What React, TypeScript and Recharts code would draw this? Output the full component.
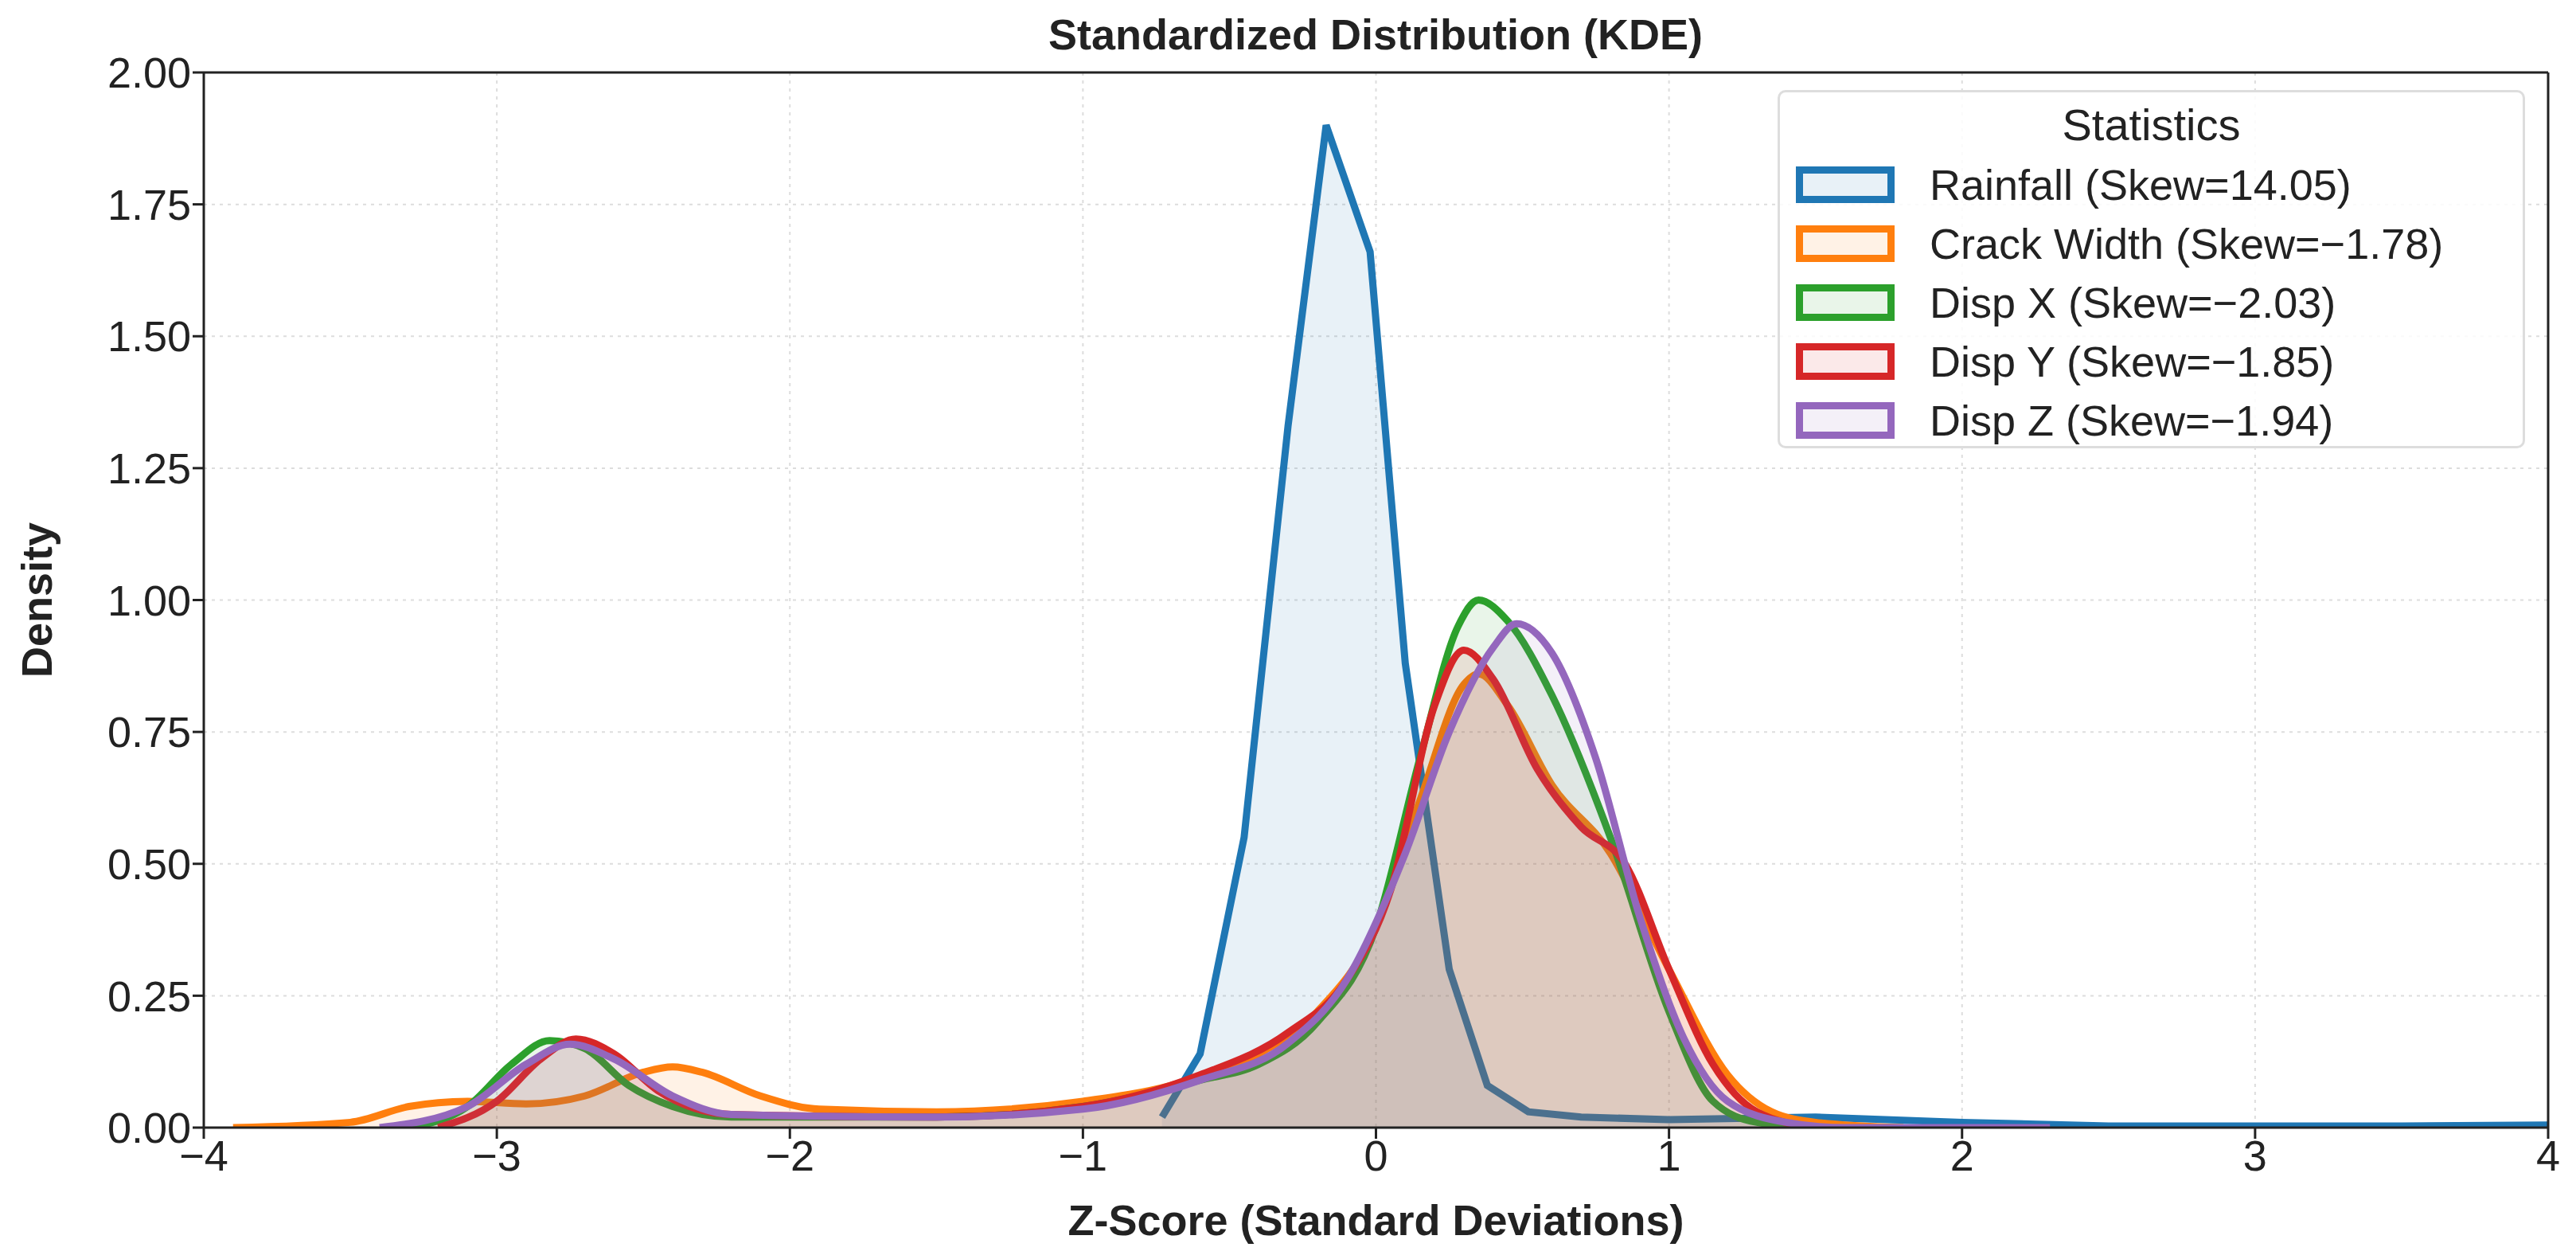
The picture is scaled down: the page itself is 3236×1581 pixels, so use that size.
import { ComposedChart, Area, XAxis, YAxis, CartesianGrid, ReferenceLine } from "recharts";

const rainfall = [
  [-0.73, 0.02], [-0.6, 0.14], [-0.45, 0.55], [-0.3, 1.33], [-0.17, 1.9], [-0.02, 1.66],
  [0.1, 0.88], [0.25, 0.3], [0.38, 0.08], [0.52, 0.03], [0.7, 0.02], [1.0, 0.015],
  [1.5, 0.02], [2.0, 0.01], [2.5, 0.003], [3.5, 0.003], [4.0, 0.005],
];
const crackWidth = [
  [-3.9, 0], [-3.5, 0.01], [-3.3, 0.04], [-3.1, 0.05], [-2.9, 0.045], [-2.7, 0.06],
  [-2.5, 0.105], [-2.4, 0.115], [-2.3, 0.105], [-2.1, 0.06], [-1.9, 0.035], [-1.5, 0.03],
  [-1.0, 0.05], [-0.7, 0.08], [-0.4, 0.14], [-0.2, 0.22], [0, 0.38], [0.15, 0.62],
  [0.3, 0.84], [0.35, 0.86], [0.45, 0.8], [0.6, 0.65], [0.8, 0.52], [1.0, 0.3],
  [1.2, 0.1], [1.35, 0.03], [1.5, 0.01], [1.8, 0],
];
const dispX = [
  [-3.3, 0], [-3.1, 0.04], [-2.95, 0.12], [-2.82, 0.165], [-2.7, 0.15], [-2.55, 0.08],
  [-2.4, 0.04], [-2.2, 0.02], [-1.5, 0.02], [-1.0, 0.04], [-0.6, 0.09], [-0.4, 0.12],
  [-0.2, 0.2], [0, 0.38], [0.15, 0.7], [0.28, 0.95], [0.35, 1.0], [0.45, 0.96],
  [0.6, 0.82], [0.8, 0.55], [1.0, 0.22], [1.15, 0.05], [1.3, 0.01], [1.5, 0],
];
const dispY = [
  [-3.2, 0], [-3.0, 0.05], [-2.85, 0.13], [-2.73, 0.168], [-2.6, 0.14], [-2.45, 0.07],
  [-2.2, 0.025], [-1.5, 0.02], [-1.0, 0.04], [-0.6, 0.1], [-0.3, 0.18], [-0.1, 0.28],
  [0.05, 0.45], [0.2, 0.8], [0.3, 0.905], [0.4, 0.85], [0.55, 0.68], [0.7, 0.57],
  [0.85, 0.5], [1.0, 0.3], [1.15, 0.12], [1.3, 0.03], [1.5, 0],
];
const dispZ = [
  [-3.4, 0], [-3.1, 0.04], [-2.9, 0.12], [-2.75, 0.158], [-2.6, 0.13], [-2.4, 0.06],
  [-2.2, 0.025], [-1.5, 0.02], [-1.0, 0.035], [-0.6, 0.09], [-0.3, 0.16], [-0.1, 0.28],
  [0.1, 0.52], [0.25, 0.75], [0.4, 0.91], [0.48, 0.955], [0.6, 0.9], [0.75, 0.7],
  [0.9, 0.4], [1.05, 0.17], [1.2, 0.05], [1.4, 0.01], [1.6, 0], [2.3, 0],
];

const series = [
  { name: "Rainfall (Skew=14.05)", data: rainfall, color: "#1f77b4", type: "linear" },
  { name: "Crack Width (Skew=\u22121.78)", data: crackWidth, color: "#ff7f0e", type: "monotone" },
  { name: "Disp X (Skew=\u22122.03)", data: dispX, color: "#2ca02c", type: "monotone" },
  { name: "Disp Y (Skew=\u22121.85)", data: dispY, color: "#d62728", type: "monotone" },
  { name: "Disp Z (Skew=\u22121.94)", data: dispZ, color: "#9467bd", type: "monotone" },
];

const xTicks = [-4, -3, -2, -1, 0, 1, 2, 3, 4];
const yTicks = [0, 0.25, 0.5, 0.75, 1, 1.25, 1.5, 1.75, 2];

const font = "'Liberation Sans', Arial, sans-serif";
const fmtMinus = (v: number) => String(v).replace("-", "\u2212");

export default function App() {
  return (
    <div style={{ position: "absolute", left: 0, top: 0, width: 3236, height: 1581, background: "#fff", fontFamily: font }}>
      <div style={{ position: "absolute", top: 12, left: 1728, transform: "translateX(-50%)", whiteSpace: "nowrap", fontSize: 54, fontWeight: "bold", color: "#222" }}>
        Standardized Distribution (KDE)
      </div>
      <ComposedChart width={3236} height={1581} margin={{ top: 91, right: 35, bottom: 0, left: 90 }}>
        <CartesianGrid stroke="#dddddd" strokeDasharray="4 6" strokeWidth={2} />
        <XAxis
          type="number" dataKey="x" domain={[-4, 4]} ticks={xTicks} allowDataOverflow
          height={165} tickFormatter={fmtMinus} tickSize={14}
          stroke="#222" strokeWidth={3} tick={{ fontSize: 54, fill: "#222", fontFamily: font }}
          label={{ value: "Z-Score (Standard Deviations)", position: "insideBottom", offset: 30, fontSize: 54, fontWeight: "bold", fill: "#222", fontFamily: font }}
        />
        <YAxis
          type="number" domain={[0, 2]} ticks={yTicks} allowDataOverflow width={166}
          tickFormatter={(v: number) => v.toFixed(2)} tickSize={14}
          stroke="#222" strokeWidth={3} tick={{ fontSize: 54, fill: "#222", fontFamily: font }}
          label={{ value: "Density", angle: -90, position: "insideLeft", offset: -44, fontSize: 54, fontWeight: "bold", fill: "#222", fontFamily: font, style: { textAnchor: "middle" } }}
        />
        <ReferenceLine y={2} stroke="#222" strokeWidth={3} />
        <ReferenceLine x={4} stroke="#222" strokeWidth={3} />
        {series.map((s) => (
          <Area
            key={s.name}
            data={s.data.map(([x, y]) => ({ x, y }))}
            dataKey="y"
            type={s.type as any}
            stroke={s.color}
            strokeWidth={9}
            fill={s.color}
            fillOpacity={0.1}
            isAnimationActive={false}
            dot={false}
            activeDot={false}
          />
        ))}
      </ComposedChart>
      <div style={{ position: "absolute", left: 2233, top: 113, width: 939, height: 450, boxSizing: "border-box", border: "3px solid #ddd", borderRadius: 10, background: "rgba(255,255,255,0.85)" }}>
        <div style={{ textAlign: "center", fontSize: 56, color: "#222", marginTop: 8, marginBottom: 6 }}>Statistics</div>
        {series.map((s) => (
          <div key={s.name} style={{ display: "flex", alignItems: "center", height: 74, paddingLeft: 20 }}>
            <div style={{ width: 124, height: 46, boxSizing: "border-box", border: `9px solid ${s.color}`, background: s.color + "1a", marginRight: 44 }} />
            <span style={{ fontSize: 54, color: "#222", whiteSpace: "nowrap" }}>{s.name}</span>
          </div>
        ))}
      </div>
    </div>
  );
}
